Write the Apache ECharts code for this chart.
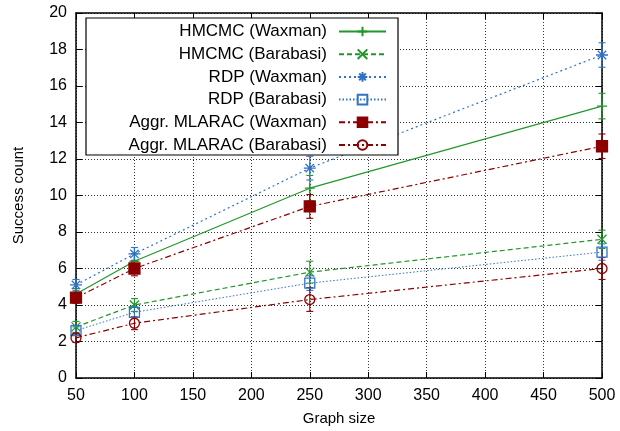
<!DOCTYPE html>
<html>
<head>
<meta charset="utf-8">
<script src="https://cdn.jsdelivr.net/npm/echarts@6/dist/echarts.min.js"></script>
<style>
  html, body { margin: 0; padding: 0; background: #fff; }
  #chart { width: 620px; height: 431px; }
</style>
</head>
<body>
<div id="chart"></div>
<script>
  const sizes = [50, 100, 250, 500];

  const hmcmcWaxman = [4.6, 6.4, 10.4, 14.9];
  const hmcmcBarabasi = [2.8, 4.0, 5.8, 7.6];
  const rdpWaxman = [5.1, 6.8, 11.5, 17.7];
  const rdpBarabasi = [2.6, 3.6, 5.2, 6.9];
  const aggrWaxman = [4.4, 6.0, 9.4, 12.7];
  const aggrBarabasi = [2.2, 3.0, 4.3, 6.0];

  // half-widths of the error bars
  const hmcmcWaxmanErr = [0.3, 0.4, 0.7, 0.7];
  const hmcmcBarabasiErr = [0.3, 0.35, 0.6, 0.5];
  const rdpWaxmanErr = [0.3, 0.35, 0.65, 0.67];
  const rdpBarabasiErr = [0.2, 0.3, 0.4, 0.45];
  const aggrWaxmanErr = [0.3, 0.4, 0.65, 0.67];
  const aggrBarabasiErr = [0.25, 0.35, 0.65, 0.6];

  const GREEN = "#22962b";
  const BLUE = "#2f74c4";
  const RED = "#8b0000";

  const PLUS = "path://M0,5L10,5M5,0L5,10";
  const CROSS = "path://M0,0L10,10M0,10L10,0";
  const STAR = "path://M5,0L5,10M0,5L10,5M1.5,1.5L8.5,8.5M1.5,8.5L8.5,1.5";

  const chart = echarts.init(document.getElementById("chart"));

  function lineSeries(name, data, color, dash, symbol, size, fill, width) {
    return {
      name: name,
      type: "line",
      clip: false,
      data: sizes.map((x, i) => [x, data[i]]),
      symbol: symbol,
      symbolSize: size,
      showAllSymbol: true,
      lineStyle: { color: color, width: width || 1.2, type: dash },
      itemStyle: { color: fill, borderColor: color, borderWidth: 1.3 },
      emphasis: { disabled: true },
      z: 3
    };
  }

  function errSeries(data, errs, color) {
    return {
      type: "custom",
      silent: true,
      clip: false,
      xAxisIndex: 0,
      yAxisIndex: 0,
      data: sizes.map((x, i) => [x, data[i] - errs[i], data[i] + errs[i]]),
      renderItem: function (params, api) {
        const lo = api.coord([api.value(0), api.value(1)]);
        const hi = api.coord([api.value(0), api.value(2)]);
        const w = 3.5;
        const st = { stroke: color, lineWidth: 1.1 };
        return {
          type: "group",
          children: [
            { type: "line", shape: { x1: lo[0], y1: lo[1], x2: hi[0], y2: hi[1] }, style: st },
            { type: "line", shape: { x1: lo[0] - w, y1: lo[1], x2: lo[0] + w, y2: lo[1] }, style: st },
            { type: "line", shape: { x1: hi[0] - w, y1: hi[1], x2: hi[0] + w, y2: hi[1] }, style: st }
          ]
        };
      },
      z: 2
    };
  }

  const font = "'Liberation Sans', Arial, sans-serif";
  const names = [
    "HMCMC (Waxman)",
    "HMCMC (Barabasi)",
    "RDP (Waxman)",
    "RDP (Barabasi)",
    "Aggr. MLARAC (Waxman)",
    "Aggr. MLARAC (Barabasi)"
  ];

  const grid = { left: 76, right: 18, top: 13, bottom: 53 };
  const gridLine = { show: true, lineStyle: { color: "#333", width: 1, type: [1, 2] } };
  const tick = { show: true, inside: true, length: 6, lineStyle: { color: "#000", width: 1 } };
  const axisLine = { show: true, onZero: false, lineStyle: { color: "#000", width: 1.5 } };

  chart.setOption({
    animation: false,
    backgroundColor: "#fff",
    grid: grid,
    legend: {
      data: names,
      orient: "vertical",
      align: "right",
      right: 620 - 387,
      top: 23,
      padding: 0,
      itemWidth: 47,
      itemHeight: 12,
      itemGap: 5.7,
      textStyle: { fontFamily: font, fontSize: 17, color: "#000", padding: [0, 7, 0, 0] },
      selectedMode: false,
      zlevel: 1,
      z: 10
    },
    graphic: [{
      type: "rect",
      shape: { x: 86, y: 18, width: 312, height: 137 },
      style: { fill: "#fff", stroke: "#000", lineWidth: 1.2 },
      zlevel: 1,
      z: 5
    }],
    xAxis: [{
      type: "value",
      min: 50,
      max: 500,
      interval: 50,
      name: "Graph size",
      nameLocation: "middle",
      nameGap: 33,
      nameTextStyle: { fontFamily: font, fontSize: 15, color: "#000" },
      axisLine: axisLine,
      axisTick: tick,
      axisLabel: { fontFamily: font, fontSize: 16, color: "#000", margin: 10 },
      splitLine: gridLine
    }, {
      type: "value",
      position: "top",
      min: 50,
      max: 500,
      interval: 50,
      axisLine: axisLine,
      axisTick: tick,
      axisLabel: { show: false },
      splitLine: { show: false }
    }],
    yAxis: [{
      type: "value",
      min: 0,
      max: 20,
      interval: 2,
      name: "Success count",
      nameLocation: "middle",
      nameGap: 50,
      nameTextStyle: { fontFamily: font, fontSize: 15, color: "#000" },
      axisLine: axisLine,
      axisTick: tick,
      axisLabel: { fontFamily: font, fontSize: 16, color: "#000", margin: 9 },
      splitLine: gridLine
    }, {
      type: "value",
      position: "right",
      min: 0,
      max: 20,
      interval: 2,
      axisLine: axisLine,
      axisTick: tick,
      axisLabel: { show: false },
      splitLine: { show: false }
    }],
    series: [
      errSeries(hmcmcWaxman, hmcmcWaxmanErr, GREEN),
      errSeries(hmcmcBarabasi, hmcmcBarabasiErr, GREEN),
      errSeries(rdpWaxman, rdpWaxmanErr, BLUE),
      errSeries(rdpBarabasi, rdpBarabasiErr, BLUE),
      errSeries(aggrWaxman, aggrWaxmanErr, RED),
      errSeries(aggrBarabasi, aggrBarabasiErr, RED),
      lineSeries(names[0], hmcmcWaxman, GREEN, "solid", PLUS, 10, "none"),
      lineSeries(names[1], hmcmcBarabasi, GREEN, [5, 3], CROSS, 9, "none"),
      lineSeries(names[2], rdpWaxman, BLUE, [2, 3], STAR, 12, "none"),
      lineSeries(names[3], rdpBarabasi, BLUE, [1.5, 2], "rect", 10, "rgba(0,0,0,0)", 1),
      lineSeries(names[4], aggrWaxman, RED, [6, 3, 2, 3], "rect", 11, RED),
      lineSeries(names[5], aggrBarabasi, RED, [6, 3, 2, 3], "circle", 10, "rgba(0,0,0,0)")
    ]
  });
</script>
</body>
</html>
